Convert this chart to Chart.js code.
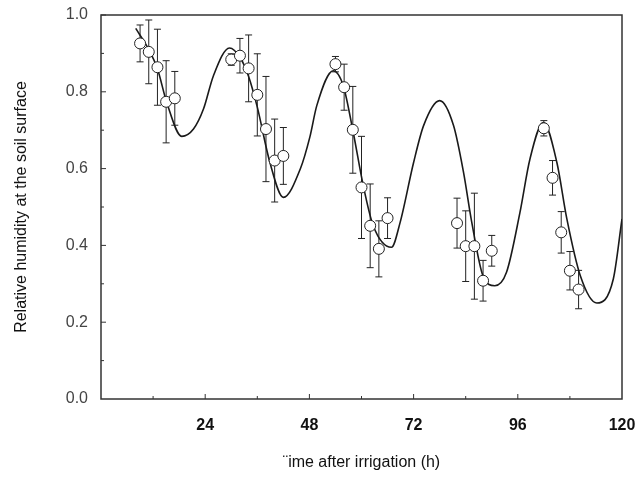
<!DOCTYPE html>
<html>
<head>
<meta charset="utf-8">
<script src="https://cdn.jsdelivr.net/npm/chart.js@4/dist/chart.umd.min.js"></script>
<style>
  html, body { margin: 0; padding: 0; background: #fff; }
</style>
</head>
<body>
<canvas id="myChart" width="644" height="477"></canvas>
<script>
// measured points (mean and +/- error)
const obsTime = [9, 11, 13, 15, 17, 30, 32, 34, 36, 38, 40, 42, 54, 56, 58, 60, 62, 64, 66, 82, 84, 86, 88, 90, 102, 104, 106, 108, 110];
const obsHumidity = [0.926, 0.904, 0.864, 0.774, 0.783, 0.884, 0.894, 0.861, 0.792, 0.703, 0.621, 0.633, 0.872, 0.812, 0.701, 0.551, 0.451, 0.391, 0.471, 0.458, 0.398, 0.398, 0.308, 0.386, 0.705, 0.576, 0.434, 0.334, 0.285];
const obsError = [0.048, 0.083, 0.099, 0.107, 0.070, 0.015, 0.045, 0.087, 0.107, 0.137, 0.108, 0.074, 0.020, 0.060, 0.113, 0.133, 0.109, 0.073, 0.053, 0.065, 0.092, 0.138, 0.053, 0.040, 0.020, 0.045, 0.054, 0.050, 0.050];

// model curve, points
const curveTime = [8, 11, 13, 15.2, 18.6, 21.3, 23.6, 25.9, 29.6, 32, 34, 36, 38.9, 42, 45.9, 48.1, 49.7, 53.5, 55.8, 58.1, 60.4, 62.7, 66.9, 68.9, 72, 74.3, 78, 81.2, 83.5, 85.4, 88, 90.7, 93.4, 96.5, 98.8, 101.9, 105, 107.3, 110.4, 114.2, 118, 120];
const curveHumidity = [0.965, 0.91, 0.86, 0.77, 0.684, 0.703, 0.755, 0.842, 0.914, 0.89, 0.84, 0.76, 0.616, 0.525, 0.599, 0.682, 0.764, 0.855, 0.816, 0.694, 0.556, 0.451, 0.395, 0.46, 0.616, 0.712, 0.777, 0.712, 0.59, 0.46, 0.32, 0.295, 0.33, 0.486, 0.625, 0.72, 0.616, 0.469, 0.321, 0.25, 0.3125, 0.469];

const xTickLabels = ['', '24', '48', '72', '96', '120'];

const frameAndBars = {
  id: 'frameAndBars',
  beforeDatasetsDraw(chart) {
    const { ctx, chartArea: a, scales: { x, y } } = chart;
    ctx.save();
    ctx.strokeStyle = '#222';
    ctx.lineWidth = 1;
    obsTime.forEach((t, i) => {
      const px = x.getPixelForValue(t);
      const top = y.getPixelForValue(obsHumidity[i] + obsError[i]);
      const bot = y.getPixelForValue(obsHumidity[i] - obsError[i]);
      ctx.beginPath();
      ctx.moveTo(px, top); ctx.lineTo(px, bot);
      ctx.moveTo(px - 3.5, top); ctx.lineTo(px + 3.5, top);
      ctx.moveTo(px - 3.5, bot); ctx.lineTo(px + 3.5, bot);
      ctx.stroke();
    });

    // box round the plot
    ctx.strokeStyle = '#333';
    ctx.lineWidth = 1.5;
    ctx.strokeRect(a.left, a.top, a.right - a.left, a.bottom - a.top);

    // inward ticks
    ctx.lineWidth = 1;
    ctx.beginPath();
    for (let v = 0.1; v < 1; v += 0.1) {
      const py = y.getPixelForValue(v);
      const len = Math.round(v * 10) % 2 === 0 ? 5 : 3;
      ctx.moveTo(a.left, py); ctx.lineTo(a.left + len, py);
    }
    for (let v = 12; v < 120; v += 12) {
      const px = x.getPixelForValue(v);
      const len = v % 24 === 0 ? 5 : 3;
      ctx.moveTo(px, a.bottom); ctx.lineTo(px, a.bottom - len);
    }
    ctx.stroke();
    ctx.restore();
  }
};

const ctx = document.getElementById('myChart').getContext('2d');
const myChart = new Chart(ctx, {
  type: 'scatter',
  data: {
    datasets: [
      {
        label: 'measured',
        data: obsTime.map((t, i) => ({ x: t, y: obsHumidity[i] })),
        pointRadius: 5.5,
        pointBackgroundColor: '#fff',
        pointBorderColor: '#222',
        pointBorderWidth: 1,
        showLine: false
      },
      {
        label: 'model',
        type: 'line',
        data: curveTime.map((t, i) => ({ x: t, y: curveHumidity[i] })),
        borderColor: '#1a1a1a',
        borderWidth: 1.6,
        pointRadius: 0,
        fill: false,
        cubicInterpolationMode: 'monotone'
      }
    ]
  },
  plugins: [frameAndBars],
  options: {
    responsive: false,
    animation: false,
    layout: { padding: { top: 15, right: 22, left: 0, bottom: 0 } },
    plugins: { legend: { display: false }, tooltip: { enabled: false } },
    scales: {
      x: {
        type: 'linear',
        min: 0,
        max: 120,
        afterFit: (s) => { s.height = 78; s.paddingLeft = 0; s.paddingRight = 0; },
        grid: { display: false, drawTicks: false },
        border: { display: false },
        ticks: {
          stepSize: 24,
          padding: 17,
          color: '#111',
          font: { family: '"Liberation Sans", Arial, sans-serif', size: 16, weight: 'bold' },
          callback: (v, i) => xTickLabels[i]
        },
        title: {
          display: true,
          text: '¨ime after irrigation (h)',
          color: '#111',
          font: { family: '"Liberation Sans", Arial, sans-serif', size: 16 },
          padding: { top: 0, bottom: 5 }
        }
      },
      y: {
        min: 0,
        max: 1,
        afterFit: (s) => { s.width = 101; s.paddingTop = 0; s.paddingBottom = 0; },
        grid: { display: false, drawTicks: false },
        border: { display: false },
        ticks: {
          stepSize: 0.2,
          padding: 13,
          color: '#444',
          font: { family: '"Liberation Sans", Arial, sans-serif', size: 16 },
          callback: (v) => v.toFixed(1)
        },
        title: {
          display: true,
          text: 'Relative humidity at the soil surface',
          color: '#111',
          font: { family: '"Liberation Sans", Arial, sans-serif', size: 16 },
          padding: { top: 12, bottom: 0 }
        }
      }
    }
  }
});
</script>
</body>
</html>
